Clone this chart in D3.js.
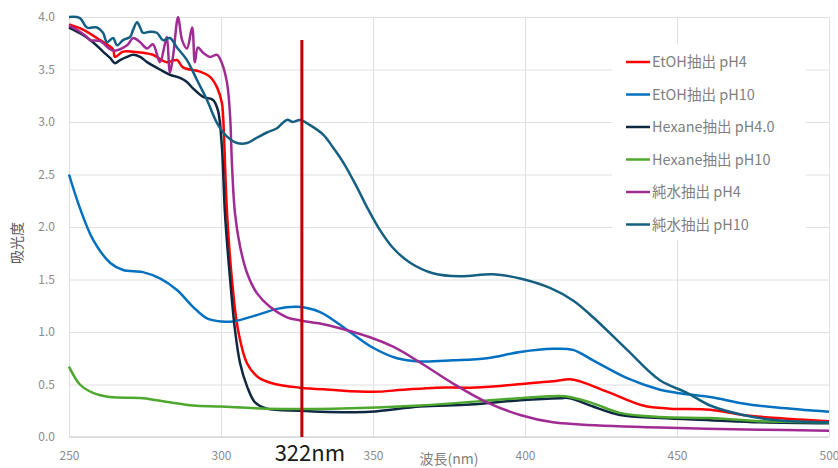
<!DOCTYPE html>
<html>
<head>
<meta charset="utf-8">
<script src="https://cdn.jsdelivr.net/npm/d3@7"></script>
<style>
  body { margin: 0; background: #fff; }
  text { font-family: "Noto Sans CJK JP", "Noto Sans", sans-serif; }
</style>
</head>
<body>
<div id="chart"></div>
<script>
// absorbance spectra, [wavelength nm, absorbance]
var etohPH4 = [[250,3.93],[254.6,3.88],[260.2,3.78],[264.5,3.69],[265.1,3.62],[267.8,3.67],[271.1,3.67],[274.3,3.66],
  [277.6,3.64],[282.2,3.57],[285.5,3.59],[287.5,3.52],[293.1,3.48],[296.4,3.43],[298.7,3.33],[300.3,3.18],[300.7,3.05],
  [302,2.13],[303.6,1.50],[305.6,1.02],[308.6,0.70],[312.2,0.57],[317.1,0.51],[326,0.47],[335.9,0.45],[350,0.43],
  [359.9,0.45],[371,0.47],[381.9,0.47],[389.5,0.48],[400.7,0.51],[409.2,0.53],[414.8,0.55],[418.1,0.53],[428,0.42],
  [438.8,0.30],[447.7,0.27],[460.9,0.26],[471.7,0.21],[482.9,0.18],[500,0.15]];

var etohPH10 = [[250,2.50],[253.6,2.18],[257.9,1.88],[263.5,1.66],[267.8,1.59],[274.3,1.57],[279.9,1.51],[285.5,1.40],
  [290.8,1.24],[295.4,1.13],[300.3,1.10],[303.9,1.10],[312.8,1.17],[318.4,1.22],[325,1.24],[332.6,1.19],[342.4,1.00],
  [350,0.85],[357.9,0.75],[365.5,0.72],[376.3,0.73],[387.5,0.75],[398.4,0.81],[409.2,0.84],[415.8,0.83],[422.4,0.73],
  [433.6,0.56],[444.4,0.45],[450,0.42],[460.9,0.38],[471.7,0.32],[482.9,0.28],[500,0.24]];

var hexanePH4 = [[250,3.90],[254.6,3.83],[257.9,3.76],[261.2,3.67],[263.5,3.61],[265.1,3.56],[266.8,3.59],[269.1,3.62],
  [271.1,3.64],[273.4,3.62],[275.7,3.57],[279.9,3.50],[283.2,3.45],[286.5,3.42],[288.8,3.38],[290.8,3.32],[294.1,3.24],
  [297.4,3.21],[299,3.11],[300.3,2.76],[301.3,2.13],[303,1.50],[304.6,1.02],[306.3,0.70],[308.6,0.48],[311.2,0.33],
  [315.1,0.27],[326,0.25],[332.6,0.24],[349,0.24],[365.5,0.29],[381.9,0.31],[398.4,0.35],[411.5,0.37],[414.8,0.37],
  [422.4,0.29],[431.3,0.21],[444.4,0.18],[460.9,0.16],[477.3,0.14],[500,0.13]];

var hexanePH10 = [[250,0.67],[253.6,0.50],[257.9,0.42],[263.5,0.38],[274.3,0.37],[283.2,0.33],[290.8,0.30],[299.7,0.29],
  [315.1,0.27],[336.8,0.27],[365.5,0.30],[398.4,0.37],[411.5,0.39],[414.8,0.38],[422.4,0.32],[431.3,0.23],[444.4,0.19],
  [460.9,0.18],[477.3,0.15],[500,0.14]];

var waterPH4 = [[250,3.92],[253.6,3.86],[255.9,3.81],[256.9,3.78],[260.2,3.77],[264.5,3.68],[269.1,3.73],[271.1,3.80],
  [273.4,3.76],[275.7,3.70],[277.6,3.74],[279.9,3.57],[281.6,3.75],[282.2,3.81],[283.2,3.47],[284.2,3.62],[285.9,4.0],
  [287.2,3.78],[288.8,3.70],[290.5,3.90],[291.4,3.57],[292.4,3.71],[294.1,3.66],[296.4,3.62],[298.7,3.64],[300.3,3.56],
  [302,3.37],[303,3.05],[303.6,2.60],[304.6,2.13],[306.3,1.81],[308.6,1.56],[311.8,1.37],[316.1,1.24],[321.7,1.14],
  [326,1.11],[332.6,1.08],[335.9,1.06],[349,0.95],[356.6,0.86],[365.5,0.71],[376.3,0.51],[387.5,0.33],[398.4,0.21],
  [409.2,0.14],[418.1,0.12],[444.4,0.09],[477.3,0.07],[500,0.06]];

var waterPH10 = [[250,4.0],[253.6,3.99],[255.9,3.90],[259.2,3.90],[261.2,3.85],[262.5,3.76],[264.5,3.80],[265.8,3.73],
  [267.8,3.78],[270.1,3.81],[271.1,3.88],[272.4,3.95],[273.4,3.90],[274.3,3.85],[276.6,3.86],[278.9,3.85],[280.9,3.78],
  [283.2,3.80],[285.5,3.71],[288.8,3.59],[292.1,3.40],[295.4,3.21],[298.7,2.99],[302,2.86],[305.3,2.80],[308.6,2.80],
  [311.8,2.85],[315.1,2.90],[318.4,2.94],[321.7,3.02],[323.7,3.00],[326,3.02],[329.3,2.97],[333.6,2.88],[336.8,2.76],
  [340.1,2.62],[344.7,2.38],[348,2.19],[352.3,1.97],[356.6,1.80],[362.2,1.66],[369.7,1.56],[378.6,1.53],[389.5,1.55],
  [398.4,1.51],[408.2,1.42],[415.8,1.30],[422.4,1.14],[433.6,0.83],[444.4,0.54],[453.3,0.42],[460.9,0.30],[471.7,0.21],
  [482.9,0.16],[500,0.14]];

var seriesNames = ["EtOH抽出 pH4", "EtOH抽出 pH10", "Hexane抽出 pH4.0", "Hexane抽出 pH10", "純水抽出 pH4", "純水抽出 pH10"];
var seriesColors = ["#FF0000", "#0070C0", "#0E2841", "#4EA72E", "#A02B93", "#156082"];
var seriesData = [etohPH4, etohPH10, hexanePH4, hexanePH10, waterPH4, waterPH10];

var xTicks = [250, 300, 350, 400, 450, 500];
var yTicks = [0, 0.5, 1.0, 1.5, 2.0, 2.5, 3.0, 3.5, 4.0];

// the vertical marker line and its label
var markerWavelength = 326.6;
var markerTop = 3.78;
var markerLabel = "322nm";

var width = 838, height = 468;
var margin = { top: 17, right: 9, bottom: 31, left: 69 };
var innerW = width - margin.left - margin.right;
var innerH = height - margin.top - margin.bottom;

var x = d3.scaleLinear().domain([250, 500]).range([0, innerW]);
var y = d3.scaleLinear().domain([0, 4]).range([innerH, 0]);

var svg = d3.select("#chart").append("svg")
    .attr("width", width)
    .attr("height", height);

var g = svg.append("g")
    .attr("transform", "translate(" + margin.left + "," + margin.top + ")");

// gridlines + tick labels
var yAxis = g.append("g")
    .call(d3.axisLeft(y).tickValues(yTicks).tickFormat(d3.format(".1f"))
        .tickSize(-innerW).tickPadding(14));
var xAxis = g.append("g")
    .attr("transform", "translate(0," + innerH + ")")
    .call(d3.axisBottom(x).tickValues(xTicks).tickFormat(d3.format("d"))
        .tickSize(-innerH).tickPadding(14));

[yAxis, xAxis].forEach(function (a) {
    a.select(".domain").remove();
    a.selectAll(".tick line").attr("stroke", "#E0E0E0").attr("stroke-width", 1);
    a.selectAll(".tick text").attr("fill", "#8C8C8C").style("font-size", "12px");
});

// baseline axis
g.append("line")
    .attr("x1", 0).attr("x2", innerW)
    .attr("y1", innerH).attr("y2", innerH)
    .attr("stroke", "#D9D9D9").attr("stroke-width", 1.5);

// legend box covers gridlines
var legendX = 612, legendY = 44;
svg.append("rect")
    .attr("x", legendX).attr("y", legendY)
    .attr("width", 194).attr("height", 196)
    .attr("fill", "#fff");

var line = d3.line()
    .x(function (d) { return x(d[0]); })
    .y(function (d) { return y(d[1]); })
    .curve(d3.curveCatmullRom.alpha(0.5));

g.selectAll("path.series")
    .data(seriesData)
    .enter().append("path")
    .attr("class", "series")
    .attr("fill", "none")
    .attr("stroke", function (d, i) { return seriesColors[i]; })
    .attr("stroke-width", 2.5)
    .attr("stroke-linejoin", "round")
    .attr("d", line);

// marker line
g.append("line")
    .attr("x1", x(markerWavelength)).attr("x2", x(markerWavelength))
    .attr("y1", y(0)).attr("y2", y(markerTop))
    .attr("stroke", "#C00000")
    .attr("stroke-width", 3);

svg.append("text")
    .attr("x", margin.left + x(markerWavelength) + 8)
    .attr("y", 461)
    .attr("text-anchor", "middle")
    .attr("fill", "#1a1a1a")
    .style("font-size", "22px")
    .text(markerLabel);

// axis titles
svg.append("text")
    .attr("x", 449).attr("y", 464)
    .attr("text-anchor", "middle")
    .attr("fill", "#7F7F7F")
    .style("font-size", "14px")
    .text("波長(nm)");

svg.append("text")
    .attr("transform", "translate(22,243) rotate(-90)")
    .attr("text-anchor", "middle")
    .attr("fill", "#595959")
    .style("font-size", "14px")
    .text("吸光度");

// legend
var legend = svg.selectAll("g.legend")
    .data(seriesNames)
    .enter().append("g")
    .attr("class", "legend")
    .attr("transform", function (d, i) { return "translate(626," + (62 + i * 32.5) + ")"; });

legend.append("line")
    .attr("x1", 0).attr("x2", 24)
    .attr("stroke", function (d, i) { return seriesColors[i]; })
    .attr("stroke-width", 2.5);

legend.append("text")
    .attr("x", 26)
    .attr("dy", "0.35em")
    .attr("fill", "#7F7F7F")
    .style("font-size", "14.5px")
    .text(function (d) { return d; });
</script>
</body>
</html>
